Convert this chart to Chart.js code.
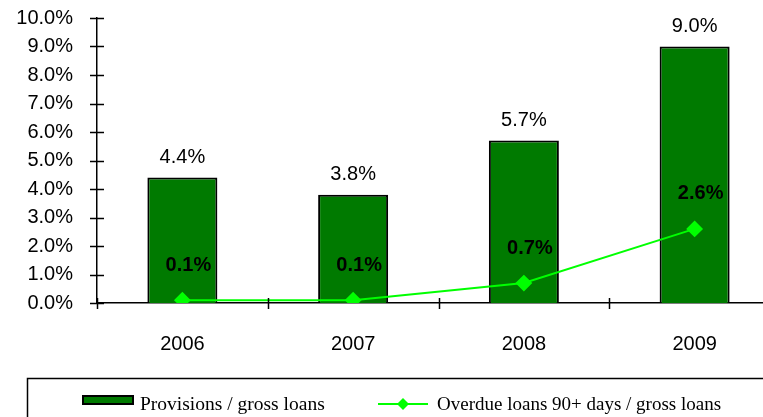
<!DOCTYPE html>
<html>
<head>
<meta charset="utf-8">
<script src="https://cdn.jsdelivr.net/npm/chart.js@4/dist/chart.umd.min.js"></script>
<style>
  html, body { margin: 0; padding: 0; background: #fff; overflow: hidden; }
  #wrap { width: 790px; height: 417px; position: relative; }
</style>
</head>
<body>
<div id="wrap"><canvas id="c" width="790" height="417"></canvas></div>
<script>
// Years on the category axis
const years = ['2006', '2007', '2008', '2009'];
// Provisions as a share of gross loans (%)
const provisions = [4.4, 3.8, 5.7, 9.0];
// Loans overdue more than 90 days as a share of gross loans (%)
const overdue = [0.1, 0.1, 0.7, 2.6];
// Series names shown in the legend
const seriesNames = ['Provisions / gross loans', 'Overdue loans 90+ days / gross loans'];

const SANS = '"Liberation Sans", Arial, sans-serif';
const SERIF = '"Liberation Serif", "Times New Roman", serif';
const BAR_GREEN = '#007A00';
const LINE_GREEN = '#00FF00';

// Short tick marks crossing both axes
const crossTicks = {
  id: 'crossTicks',
  afterDatasetsDraw(chart) {
    const { ctx, scales: { x, y } } = chart;
    ctx.save();
    ctx.strokeStyle = '#000';
    ctx.lineWidth = 1.5;
    ctx.beginPath();
    y.ticks.forEach(t => {
      const py = Math.round(y.getPixelForValue(t.value)) + 0.5;
      ctx.moveTo(x.left - 7, py);
      ctx.lineTo(x.left + 7, py);
    });
    const step = x.getPixelForValue(1) - x.getPixelForValue(0);
    for (let i = 0; i <= years.length; i++) {
      const px = x.getPixelForValue(0) - step / 2 + i * step;
      const rx = Math.round(px) + 0.5;
      ctx.moveTo(rx, y.bottom - 5);
      ctx.lineTo(rx, y.bottom + 6);
    }
    ctx.stroke();
    ctx.restore();
  }
};

// Value labels: plain above bars, bold above line points
const valueLabels = {
  id: 'valueLabels',
  afterDatasetsDraw(chart) {
    const { ctx } = chart;
    ctx.save();
    ctx.fillStyle = '#000';
    ctx.textAlign = 'center';
    ctx.textBaseline = 'middle';
    const barMeta = chart.getDatasetMeta(0);
    ctx.font = '20px ' + SANS;
    barMeta.data.forEach((el, i) => {
      ctx.fillText(provisions[i].toFixed(1) + '%', el.x, el.y - 20);
    });
    const lineMeta = chart.getDatasetMeta(1);
    ctx.font = 'bold 20px ' + SANS;
    lineMeta.data.forEach((el, i) => {
      ctx.fillText(overdue[i].toFixed(1) + '%', el.x + 6, el.y - 35);
    });
    ctx.restore();
  }
};

// Boxed legend along the bottom edge
const boxedLegend = {
  id: 'boxedLegend',
  afterDraw(chart) {
    const { ctx } = chart;
    const ds = chart.data.datasets;
    ctx.save();
    ctx.strokeStyle = '#000';
    ctx.lineWidth = 1.5;
    ctx.strokeRect(27.5, 378.5, 800, 60);

    // bar swatch
    ctx.fillStyle = ds[0].backgroundColor;
    ctx.fillRect(83, 396, 50, 8);
    ctx.lineWidth = 2;
    ctx.strokeRect(83, 396, 50, 8);

    ctx.fillStyle = '#000';
    ctx.font = '19.5px ' + SERIF;
    ctx.textBaseline = 'middle';
    ctx.textAlign = 'left';
    ctx.fillText(ds[0].label, 140, 405);

    // line swatch with diamond
    ctx.strokeStyle = ds[1].borderColor;
    ctx.lineWidth = 2;
    ctx.beginPath();
    ctx.moveTo(378, 404);
    ctx.lineTo(428, 404);
    ctx.stroke();
    ctx.fillStyle = ds[1].pointBackgroundColor;
    ctx.beginPath();
    ctx.moveTo(403, 398);
    ctx.lineTo(409, 404);
    ctx.lineTo(403, 410);
    ctx.lineTo(397, 404);
    ctx.closePath();
    ctx.fill();

    ctx.fillStyle = '#000';
    ctx.font = '19px ' + SERIF;
    ctx.fillText(ds[1].label, 437, 405);
    ctx.restore();
  }
};

new Chart(document.getElementById('c'), {
  type: 'bar',
  data: {
    labels: years,
    datasets: [
      {
        type: 'bar',
        label: seriesNames[0],
        data: provisions,
        backgroundColor: BAR_GREEN,
        borderColor: '#000',
        borderWidth: 2,
        categoryPercentage: 1,
        barPercentage: 0.41,
        order: 2
      },
      {
        type: 'line',
        label: seriesNames[1],
        data: overdue,
        borderColor: LINE_GREEN,
        backgroundColor: LINE_GREEN,
        pointBackgroundColor: LINE_GREEN,
        pointBorderColor: LINE_GREEN,
        pointStyle: 'rectRot',
        pointRadius: 7,
        borderWidth: 2,
        tension: 0,
        order: 1
      }
    ]
  },
  options: {
    responsive: false,
    animation: false,
    layout: { padding: { top: 18, right: 10, left: 0, bottom: 0 } },
    plugins: { legend: { display: false }, tooltip: { enabled: false } },
    scales: {
      x: {
        grid: { display: false, drawTicks: false },
        border: { display: true, color: '#000', width: 1.5 },
        ticks: { color: '#000', font: { family: SANS, size: 20 }, padding: 29, maxRotation: 0 },
        afterFit: s => { s.height = 114; }
      },
      y: {
        min: 0,
        max: 10,
        grid: { display: false, drawTicks: false },
        border: { display: true, color: '#000', width: 1.5 },
        ticks: {
          stepSize: 1,
          autoSkip: false,
          color: '#000',
          font: { family: SANS, size: 20 },
          padding: 24,
          callback: v => v.toFixed(1) + '%'
        },
        afterFit: s => { s.width = 97; s.paddingTop = 0; s.paddingBottom = 0; }
      }
    }
  },
  plugins: [crossTicks, valueLabels, boxedLegend]
});
</script>
</body>
</html>
